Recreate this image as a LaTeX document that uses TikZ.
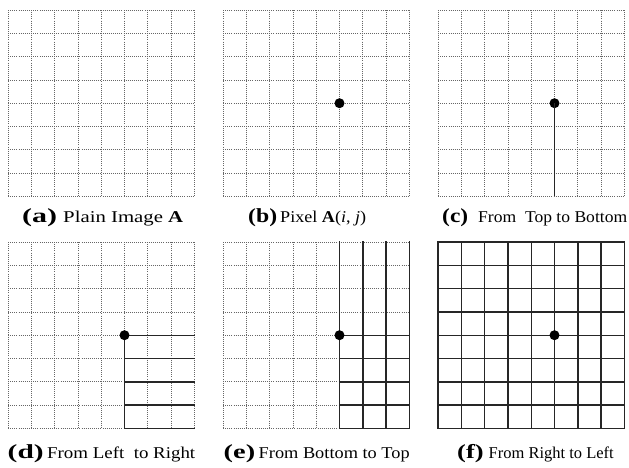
\documentclass[tikz,border=0pt]{standalone}
\usepackage{fontspec}
\usepackage{graphicx}
\setmainfont{Liberation Serif}
\begin{document}
\begin{tikzpicture}[x=1pt,y=-1pt,
  dotgrid/.style={line width=0.7pt, black!60, dash pattern=on 0.7pt off 1.4pt},
  solidline/.style={line width=1.4pt, black!85, line cap=rect},
  pixel/.style={circle, fill=black, inner sep=0pt, minimum size=10pt},
  captext/.style={anchor=base west, font=\fontsize{16.5}{18}\selectfont, inner sep=0pt},
  caplab/.style={anchor=base west, font=\fontsize{20}{22}\selectfont\bfseries, inner sep=0pt},
]
\useasboundingbox (0,0) rectangle (629,467);
\def\c{23.3}
\newcommand\mydotgrid{%
  \foreach \i in {0,...,8} {
    \draw[dotgrid] (\i*\c,0) -- (\i*\c,8*\c);
    \draw[dotgrid] (0,\i*\c) -- (8*\c,\i*\c);
  }}
% (a)
\begin{scope}[shift={(8,10)}]
  \mydotgrid
\end{scope}
\node[caplab] (laba) at (22,222) {\resizebox{35pt}{\height}{(a)}};
\node[captext] (capa) at (63,222) {\resizebox{120pt}{\height}{Plain Image \textbf{A}}};
% (b)
\begin{scope}[shift={(223,10)}]
  \mydotgrid
  \node[pixel] (pb) at (5*\c,4*\c) {};
\end{scope}
\node[caplab] (labb) at (248,222) {\resizebox{29pt}{\height}{(b)}};
\node[captext] (capb) at (280,222) {\resizebox{86pt}{\height}{Pixel \textbf{A}(\textit{i}, \textit{j})}};
% (c)
\begin{scope}[shift={(438,10)}]
  \mydotgrid
  \coordinate (cb) at (5*\c,8*\c);
  \node[pixel] (pc) at (5*\c,4*\c) {};
  \draw[solidline,line cap=butt] (pc.center) -- (cb);
\end{scope}
\node[caplab] (labc) at (442,222) {\resizebox{26pt}{\height}{(c)}};
\node[captext] (capc) at (478,222) {\resizebox{149pt}{\height}{From\ \ Top to Bottom}};
% (d)
\begin{scope}[shift={(8,242)}]
  \mydotgrid
  \foreach \j in {4,...,8} \draw[solidline] (5*\c,\j*\c) -- (8*\c,\j*\c);
  \draw[solidline] (5*\c,4*\c) -- (5*\c,8*\c);
  \node[pixel] (pd) at (5*\c,4*\c) {};
\end{scope}
\node[caplab] (labd) at (7.5,458) {\resizebox{36pt}{\height}{(d)}};
\node[captext] (capd) at (47,458) {\resizebox{148pt}{\height}{From Left\ \ to Right}};
% (e)
\begin{scope}[shift={(223,242)}]
  \mydotgrid
  \foreach \i in {5,...,8} \draw[solidline] (\i*\c,0) -- (\i*\c,8*\c);
  \foreach \j in {4,...,8} \draw[solidline] (5*\c,\j*\c) -- (8*\c,\j*\c);
  \node[pixel] (pe) at (5*\c,4*\c) {};
\end{scope}
\node[caplab] (labe) at (223.5,458) {\resizebox{31.5pt}{\height}{(e)}};
\node[captext] (cape) at (258.5,458) {\resizebox{151pt}{\height}{From Bottom to Top}};
% (f)
\begin{scope}[shift={(438,242)}]
  \foreach \i in {0,...,8} {
    \draw[solidline] (\i*\c,0) -- (\i*\c,8*\c);
    \draw[solidline] (0,\i*\c) -- (8*\c,\i*\c);
  }
  \node[pixel] (pf) at (5*\c,4*\c) {};
\end{scope}
\node[caplab] (labf) at (457,458) {\resizebox{26.5pt}{\height}{(f)}};
\node[captext] (capf) at (488.5,458) {\resizebox{125pt}{\height}{From Right to Left}};
\end{tikzpicture}
\end{document}
